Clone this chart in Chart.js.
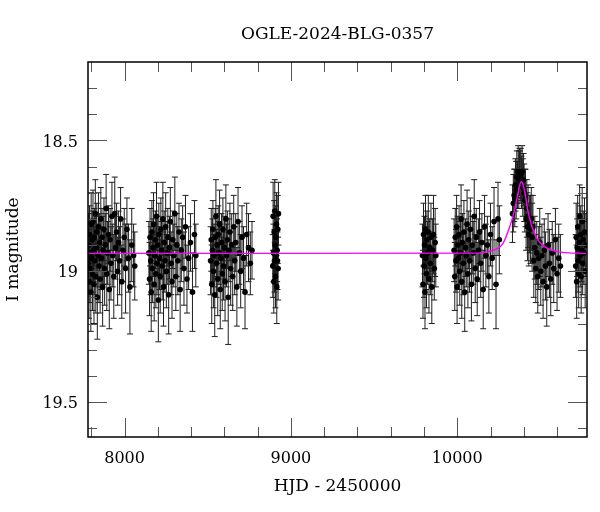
<!DOCTYPE html>
<html>
<head>
<meta charset="utf-8">
<script src="https://cdn.jsdelivr.net/npm/chart.js@4.4.1/dist/chart.umd.min.js"></script>
<style>
  html, body { margin: 0; padding: 0; background: #fff; }
  #wrap { width: 600px; height: 512px; }
</style>
</head>
<body>
<div id="wrap"><canvas id="lightCurve"></canvas></div>
<script>
const title = "OGLE-2024-BLG-0357";

// OGLE photometry: HJD - 2450000, I magnitude, error
const hjd = [
  7781, 7784, 7786, 7789, 7791, 7794, 7797, 7799, 7802, 7805, 7807, 7810, 7813, 7816, 7818, 7821,
  7824, 7827, 7830, 7833, 7836, 7840, 7843, 7846, 7850, 7853, 7857, 7860, 7864, 7868, 7872, 7876,
  7880, 7884, 7889, 7893, 7898, 7903, 7908, 7913, 7918, 7924, 7929, 7935, 7941, 7946, 7952, 7958,
  7964, 7970, 7976, 7983, 7990, 7998, 8006, 8014, 8023, 8032, 8043, 8054, 8061,
  8146, 8150, 8153, 8157, 8160, 8164, 8167, 8171, 8174, 8178, 8181, 8185, 8188, 8192, 8195, 8199,
  8203, 8206, 8210, 8214, 8218, 8222, 8226, 8230, 8234, 8238, 8242, 8247, 8251, 8256, 8260, 8265,
  8270, 8275, 8280, 8285, 8290, 8296, 8302, 8308, 8314, 8320, 8327, 8334, 8341, 8349, 8357, 8366,
  8375, 8385, 8396, 8408, 8420, 8428,
  8517, 8521, 8524, 8528, 8531, 8535, 8538, 8542, 8545, 8549, 8552, 8556, 8560, 8563, 8567, 8571,
  8575, 8579, 8583, 8587, 8591, 8595, 8600, 8604, 8609, 8613, 8618, 8623, 8628, 8633, 8638, 8644,
  8650, 8656, 8662, 8668, 8675, 8682, 8690, 8698, 8706, 8715, 8724, 8734, 8745, 8756, 8766,
  8891, 8893, 8895, 8897, 8899, 8901, 8903, 8905, 8907, 8909, 8911, 8913, 8915, 8917, 8919, 8921,
  8923, 8925,
  9791, 9794, 9797, 9800, 9803, 9806, 9809, 9812, 9815, 9818, 9822, 9826, 9830, 9834, 9838, 9842,
  9847, 9852, 9857, 9862, 9867, 9871,
  9981, 9985, 9988, 9992, 9996, 9999, 10003, 10007, 10011, 10015, 10019, 10023, 10027, 10031, 10036, 10040,
  10045, 10049, 10054, 10059, 10064, 10069, 10074, 10079, 10085, 10090, 10096, 10102, 10108, 10114, 10120, 10127,
  10134, 10141, 10148, 10156, 10164, 10172, 10181, 10190, 10200, 10210, 10221, 10233, 10245, 10253,
  10332, 10337, 10342, 10346, 10350, 10354, 10358, 10362, 10366, 10370, 10374, 10378, 10382, 10386, 10390, 10394,
  10398, 10402, 10406, 10410, 10414, 10418, 10422, 10426, 10430, 10435, 10440, 10445, 10450, 10455, 10460, 10466,
  10472, 10478, 10484, 10490, 10496, 10502, 10509, 10516, 10523, 10530, 10538, 10546, 10554, 10562, 10571, 10580,
  10590, 10600, 10610, 10620,
  10712, 10715, 10718, 10721, 10724, 10727, 10730, 10733, 10736, 10739, 10742, 10745, 10748, 10751, 10754, 10757,
  10761, 10765, 10769, 10773
];
const mag = [
  18.97, 18.90, 19.04, 18.86, 18.99, 18.93, 19.08, 18.82, 18.95, 18.88, 19.01, 18.81, 18.92, 19.05, 18.87, 18.96,
  18.78, 19.02, 18.91, 18.85, 19.10, 18.94, 18.83, 18.98, 18.89, 19.03, 18.80, 18.95, 18.87, 19.06, 18.92, 18.84,
  18.99, 18.90, 18.76, 19.01, 18.93, 18.86, 19.07, 18.88, 18.97, 18.79, 18.94, 19.02, 18.78, 18.91, 18.85, 19.00,
  18.89, 18.96, 18.80, 19.04, 18.92, 18.87, 18.99, 18.84, 18.95, 19.06, 18.90, 18.94, 18.98,
  18.93, 19.03, 18.87, 18.96, 19.08, 18.85, 18.99, 18.91, 18.82, 19.05, 18.94, 18.88, 19.01, 18.79, 18.97, 18.90,
  19.11, 18.86, 18.95, 19.02, 18.84, 18.92, 18.98, 18.80, 19.06, 18.89, 18.96, 18.83, 19.00, 18.93, 18.87, 19.09,
  18.91, 18.81, 18.97, 19.04, 18.88, 18.94, 18.78, 19.02, 18.90, 18.96, 18.85, 19.07, 18.92, 18.87, 18.99, 18.83,
  19.03, 18.95, 18.89, 19.08, 18.86, 18.94,
  18.96, 18.88, 19.05, 18.92, 18.84, 19.00, 18.94, 19.09, 18.87, 18.79, 18.97, 18.90, 19.03, 18.86, 18.93, 18.82,
  19.07, 18.95, 18.89, 19.01, 18.84, 18.98, 18.91, 19.04, 18.80, 18.94, 18.88, 19.10, 18.92, 18.85, 18.99, 18.90,
  19.02, 18.83, 18.96, 18.89, 19.06, 18.81, 18.93, 19.00, 18.87, 18.95, 19.08, 18.86, 18.91, 18.97, 18.92,
  18.98, 18.79, 18.93, 19.04, 18.85, 18.96, 18.77, 18.90, 19.02, 18.87, 18.94, 18.82, 19.06, 18.92, 18.96, 18.84,
  18.99, 18.78,
  18.94, 19.05, 18.86, 18.98, 18.90, 19.08, 18.84, 18.95, 19.01, 18.88, 18.93, 18.85, 19.03, 18.91, 18.97, 18.87,
  19.06, 18.92, 18.86, 18.99, 18.89, 18.94,
  18.92, 19.02, 18.87, 18.96, 18.83, 19.06, 18.90, 18.95, 18.86, 19.00, 18.93, 18.80, 19.04, 18.89, 18.97, 18.85,
  19.08, 18.91, 18.94, 18.82, 19.01, 18.88, 18.96, 18.84, 19.05, 18.90, 18.93, 18.79, 18.99, 18.87, 19.03, 18.92,
  18.85, 18.97, 18.89, 19.07, 18.83, 18.94, 18.90, 19.02, 18.86, 18.95, 18.81, 19.05, 18.80, 18.88,
  18.78, 18.74, 18.71, 18.72, 18.67, 18.69, 18.64, 18.67, 18.62, 18.65, 18.62, 18.64, 18.63, 18.66, 18.62, 18.68,
  18.65, 18.70, 18.73, 18.72, 18.80, 18.76, 18.83, 18.79, 18.86, 18.82, 18.84, 18.80, 18.87, 18.83, 18.96, 18.91,
  18.99, 18.93, 19.02, 18.95, 18.89, 19.00, 18.94, 19.04, 18.92, 18.98, 19.06, 18.90, 18.97, 19.03, 18.93, 18.99,
  18.88, 19.01, 18.95, 18.98,
  18.98, 18.87, 19.04, 18.91, 18.83, 18.96, 19.01, 18.89, 18.79, 18.94, 18.86, 19.02, 18.92, 18.81, 18.97, 18.88,
  18.93, 18.85, 19.00, 18.90
];
const magErr = [
  0.13, 0.12, 0.14, 0.11, 0.13, 0.12, 0.15, 0.12, 0.13, 0.11, 0.14, 0.12, 0.12, 0.15, 0.11, 0.13,
  0.13, 0.14, 0.12, 0.11, 0.16, 0.12, 0.13, 0.14, 0.11, 0.13, 0.12, 0.12, 0.11, 0.15, 0.13, 0.12,
  0.14, 0.12, 0.13, 0.14, 0.12, 0.11, 0.15, 0.12, 0.14, 0.13, 0.12, 0.16, 0.14, 0.12, 0.11, 0.13,
  0.12, 0.13, 0.12, 0.14, 0.12, 0.11, 0.17, 0.12, 0.13, 0.18, 0.14, 0.12, 0.13,
  0.12, 0.14, 0.11, 0.13, 0.15, 0.12, 0.13, 0.11, 0.12, 0.14, 0.12, 0.11, 0.13, 0.13, 0.12, 0.11,
  0.16, 0.12, 0.12, 0.14, 0.12, 0.11, 0.13, 0.14, 0.15, 0.12, 0.12, 0.13, 0.14, 0.12, 0.11, 0.15,
  0.12, 0.13, 0.12, 0.14, 0.11, 0.12, 0.14, 0.13, 0.12, 0.13, 0.11, 0.16, 0.12, 0.12, 0.14, 0.12,
  0.13, 0.12, 0.11, 0.15, 0.13, 0.12,
  0.13, 0.12, 0.15, 0.12, 0.11, 0.14, 0.12, 0.16, 0.11, 0.14, 0.13, 0.12, 0.14, 0.11, 0.12, 0.13,
  0.15, 0.12, 0.11, 0.14, 0.12, 0.13, 0.12, 0.15, 0.13, 0.12, 0.11, 0.18, 0.12, 0.11, 0.14, 0.12,
  0.13, 0.12, 0.13, 0.11, 0.15, 0.13, 0.12, 0.14, 0.12, 0.12, 0.14, 0.12, 0.13, 0.12, 0.11,
  0.12, 0.13, 0.11, 0.12, 0.12, 0.12, 0.12, 0.11, 0.12, 0.12, 0.11, 0.12, 0.14, 0.12, 0.11, 0.13,
  0.12, 0.12,
  0.12, 0.13, 0.12, 0.12, 0.11, 0.14, 0.13, 0.12, 0.13, 0.11, 0.12, 0.14, 0.13, 0.11, 0.12, 0.13,
  0.14, 0.12, 0.15, 0.12, 0.13, 0.12,
  0.12, 0.13, 0.11, 0.12, 0.12, 0.14, 0.11, 0.12, 0.11, 0.13, 0.12, 0.13, 0.14, 0.11, 0.12, 0.12,
  0.15, 0.11, 0.12, 0.13, 0.13, 0.11, 0.12, 0.12, 0.14, 0.11, 0.12, 0.14, 0.13, 0.11, 0.14, 0.12,
  0.12, 0.13, 0.11, 0.15, 0.12, 0.12, 0.11, 0.14, 0.12, 0.12, 0.13, 0.17, 0.14, 0.13,
  0.11, 0.11, 0.10, 0.11, 0.10, 0.11, 0.10, 0.09, 0.10, 0.11, 0.09, 0.10, 0.10, 0.10, 0.10, 0.11,
  0.10, 0.11, 0.12, 0.11, 0.12, 0.11, 0.13, 0.12, 0.12, 0.11, 0.13, 0.12, 0.13, 0.12, 0.14, 0.12,
  0.13, 0.12, 0.14, 0.12, 0.13, 0.13, 0.12, 0.14, 0.12, 0.13, 0.15, 0.12, 0.13, 0.14, 0.12, 0.13,
  0.12, 0.14, 0.13, 0.12,
  0.12, 0.13, 0.14, 0.11, 0.12, 0.12, 0.13, 0.11, 0.12, 0.12, 0.11, 0.14, 0.12, 0.13, 0.12, 0.11,
  0.12, 0.13, 0.14, 0.12
];

// microlensing model curve
const modelHjd = [7780, 9000, 10100, 10150, 10200, 10240, 10270, 10295, 10315, 10335, 10350, 10362,
  10372, 10380, 10386, 10393, 10402, 10412, 10425, 10440, 10455, 10475, 10500, 10530, 10570, 10620, 10700, 10780];
const modelMag = [18.932, 18.932, 18.931, 18.929, 18.923, 18.914, 18.898, 18.866, 18.830, 18.790, 18.750, 18.710,
  18.680, 18.662, 18.658, 18.664, 18.685, 18.720, 18.770, 18.810, 18.840, 18.870, 18.892, 18.908, 18.920, 18.927, 18.931, 18.932];

// tick marks (labelled ones are the majors)
const xTicks = [7800, 8000, 8200, 8400, 8600, 8800, 9000, 9200, 9400, 9600, 9800, 10000, 10200, 10400, 10600];
const xMajorTicks = [8000, 9000, 10000];
const yTicks = [18.3, 18.4, 18.5, 18.6, 18.7, 18.8, 18.9, 19.0, 19.1, 19.2, 19.3, 19.4, 19.5, 19.6];
const yMajorTicks = [18.5, 19, 19.5];

const serif = '"DejaVu Serif", "Liberation Serif", serif';
const isMajor = (list, v) => list.some(m => Math.abs(m - v) < 1e-6);

const frameTicks = {
  id: 'frameTicks',
  beforeDatasetsDraw(chart) {
    const { ctx, chartArea: a, scales: { x, y } } = chart;
    ctx.save();
    ctx.beginPath();
    ctx.rect(a.left, a.top, a.right - a.left, a.bottom - a.top);
    ctx.clip();
    ctx.strokeStyle = '#1e1e1e';
    ctx.lineWidth = 1;
    ctx.beginPath();
    for (let i = 0; i < hjd.length; i++) {
      const px = x.getPixelForValue(hjd[i]);
      const y1 = y.getPixelForValue(mag[i] - magErr[i]);
      const y2 = y.getPixelForValue(mag[i] + magErr[i]);
      ctx.moveTo(px, y1); ctx.lineTo(px, y2);
      ctx.moveTo(px - 3, y1); ctx.lineTo(px + 3, y1);
      ctx.moveTo(px - 3, y2); ctx.lineTo(px + 3, y2);
    }
    ctx.stroke();
    ctx.restore();
  },
  afterDatasetsDraw(chart) {
    const { ctx, chartArea: a, scales: { x, y } } = chart;
    ctx.save();
    ctx.strokeStyle = '#555';
    ctx.lineWidth = 1;
    ctx.beginPath();
    x.ticks.forEach(t => {
      const px = Math.round(x.getPixelForValue(t.value)) + 0.5;
      const len = isMajor(xMajorTicks, t.value) ? 19 : 10;
      ctx.moveTo(px, a.bottom); ctx.lineTo(px, a.bottom - len);
      ctx.moveTo(px, a.top); ctx.lineTo(px, a.top + len);
    });
    y.ticks.forEach(t => {
      const py = Math.round(y.getPixelForValue(t.value)) + 0.5;
      const len = isMajor(yMajorTicks, t.value) ? 19 : 9;
      ctx.moveTo(a.left, py); ctx.lineTo(a.left + len, py);
      ctx.moveTo(a.right, py); ctx.lineTo(a.right - len, py);
    });
    ctx.stroke();
    ctx.strokeStyle = '#000';
    ctx.lineWidth = 1.5;
    ctx.strokeRect(a.left, a.top, a.right - a.left, a.bottom - a.top);
    ctx.fillStyle = '#000';
    ctx.font = '17px ' + serif;
    ctx.textAlign = 'center';
    ctx.textBaseline = 'middle';
    ctx.fillText(title, (a.left + a.right) / 2, 35);
    ctx.restore();
  }
};

new Chart(document.getElementById('lightCurve'), {
  type: 'scatter',
  plugins: [frameTicks],
  data: {
    datasets: [
      {
        label: 'model',
        data: modelHjd.map((v, i) => ({ x: v, y: modelMag[i] })),
        showLine: true,
        borderColor: '#ff00ff',
        borderWidth: 1.4,
        pointRadius: 0,
        cubicInterpolationMode: 'monotone',
        order: 0
      },
      {
        label: 'OGLE I',
        data: hjd.map((v, i) => ({ x: v, y: mag[i] })),
        backgroundColor: '#000',
        borderWidth: 0,
        pointRadius: 2.8,
        order: 1
      }
    ]
  },
  options: {
    responsive: true,
    maintainAspectRatio: false,
    animation: false,
    layout: { padding: { top: 62, right: 13, left: 0, bottom: 0 } },
    plugins: { legend: { display: false }, tooltip: { enabled: false } },
    scales: {
      x: {
        type: 'linear',
        min: 7780,
        max: 10780,
        afterBuildTicks: s => { s.ticks = xTicks.map(v => ({ value: v })); },
        afterFit: s => { s.height = 75; },
        grid: { display: false, drawTicks: false },
        border: { display: false },
        ticks: {
          autoSkip: false,
          maxRotation: 0,
          padding: 12,
          color: '#000',
          font: { family: serif, size: 16 },
          callback: v => isMajor(xMajorTicks, v) ? String(v) : ''
        },
        title: {
          display: true,
          text: 'HJD - 2450000',
          color: '#000',
          font: { family: serif, size: 17 },
          padding: { top: 4, bottom: 15 }
        }
      },
      y: {
        type: 'linear',
        reverse: true,
        min: 18.2,
        max: 19.634,
        afterBuildTicks: s => { s.ticks = yTicks.map(v => ({ value: v })); },
        afterFit: s => { s.width = 88; },
        grid: { display: false, drawTicks: false },
        border: { display: false },
        ticks: {
          autoSkip: false,
          padding: 10,
          labelOffset: 2,
          color: '#000',
          font: { family: serif, size: 16 },
          callback: v => {
            const m = yMajorTicks.find(t => Math.abs(t - v) < 1e-6);
            return m === undefined ? '' : String(m);
          }
        },
        title: {
          display: true,
          text: 'I magnitude',
          color: '#000',
          font: { family: serif, size: 17 },
          padding: { top: 3, bottom: 0 }
        }
      }
    }
  }
});
</script>
</body>
</html>
